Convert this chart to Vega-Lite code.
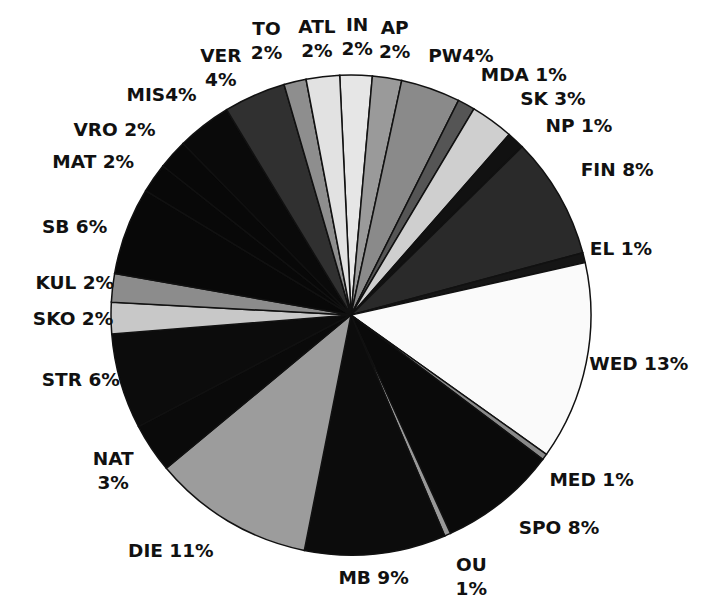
{
  "$schema": "https://vega.github.io/schema/vega-lite/v6.json",
  "width": 702,
  "height": 576,
  "autosize": "none",
  "padding": {"top": 27, "left": 0, "right": 5, "bottom": 0},
  "background": "white",
  "view": {"stroke": null},
  "config": {
    "text": {"font": "DejaVu Sans", "fontWeight": "bold", "fontSize": 18.5, "lineHeight": 24, "lineBreak": "\n", "color": "#111111", "baseline": "middle", "align": "center"}
  },
  "data": {
    "values": [
      {"i": 1, "name": "IN", "value": 2.17, "label": "IN\n2%"},
      {"i": 2, "name": "AP", "value": 1.97, "label": "AP\n2%"},
      {"i": 3, "name": "PW", "value": 4.0, "label": "PW4%"},
      {"i": 4, "name": "MDA", "value": 1.17, "label": "MDA 1%"},
      {"i": 5, "name": "SK", "value": 2.89, "label": "SK 3%"},
      {"i": 6, "name": "NP", "value": 1.19, "label": "NP 1%"},
      {"i": 7, "name": "FIN", "value": 8.19, "label": "FIN 8%"},
      {"i": 8, "name": "EL", "value": 0.67, "label": "EL 1%"},
      {"i": 9, "name": "WED", "value": 13.36, "label": "WED 13%"},
      {"i": 10, "name": "MED", "value": 0.42, "label": "MED 1%"},
      {"i": 11, "name": "SPO", "value": 7.92, "label": "SPO 8%"},
      {"i": 12, "name": "OU", "value": 0.42, "label": "OU\n1%"},
      {"i": 13, "name": "MB", "value": 9.5, "label": "MB 9%"},
      {"i": 14, "name": "DIE", "value": 10.86, "label": "DIE 11%"},
      {"i": 15, "name": "NAT", "value": 3.33, "label": "NAT\n3%"},
      {"i": 16, "name": "STR", "value": 6.44, "label": "STR 6%"},
      {"i": 17, "name": "SKO", "value": 2.11, "label": "SKO 2%"},
      {"i": 18, "name": "KUL", "value": 1.92, "label": "KUL 2%"},
      {"i": 19, "name": "SB", "value": 5.89, "label": "SB 6%"},
      {"i": 20, "name": "MAT", "value": 2.0, "label": "MAT 2%"},
      {"i": 21, "name": "VRO", "value": 2.0, "label": "VRO 2%"},
      {"i": 22, "name": "MIS", "value": 3.67, "label": "MIS4%"},
      {"i": 23, "name": "VER", "value": 4.17, "label": "VER\n4%"},
      {"i": 24, "name": "TO", "value": 1.5, "label": "TO\n2%"},
      {"i": 25, "name": "ATL", "value": 2.25, "label": "ATL\n2%"}
    ]
  },
  "encoding": {
    "theta": {"field": "value", "type": "quantitative", "stack": true, "scale": {"range": [-0.0471, 6.2361]}},
    "order": {"field": "i", "type": "quantitative"}
  },
  "layer": [
    {
      "mark": {"type": "arc", "outerRadius": 240, "stroke": "#111111", "strokeWidth": 1.5},
      "encoding": {
        "color": {
          "field": "name",
          "type": "nominal",
          "legend": null,
          "scale": {
            "domain": ["IN","AP","PW","MDA","SK","NP","FIN","EL","WED","MED","SPO","OU","MB","DIE","NAT","STR","SKO","KUL","SB","MAT","VRO","MIS","VER","TO","ATL"],
            "range": ["#e6e6e6","#9a9a9a","#8a8a8a","#555555","#cfcfcf","#111111","#2a2a2a","#151515","#fafafa","#8a8a8a","#0a0a0a","#999999","#0c0c0c","#9c9c9c","#0a0a0a","#0c0c0c","#c8c8c8","#8c8c8c","#080808","#080808","#080808","#0a0a0a","#303030","#8e8e8e","#e2e2e2"]
          }
        }
      }
    },
    {
      "mark": {"type": "text", "radius": 278},
      "encoding": {"text": {"condition": {"test": "indexof(['KUL','SKO','EL'], datum.name) >= 0", "field": "label", "type": "nominal"}, "value": ""}}
    },
    {
      "mark": {"type": "text", "radius": 290},
      "encoding": {"text": {"condition": {"test": "indexof(['IN','ATL','AP'], datum.name) >= 0", "field": "label", "type": "nominal"}, "value": ""}}
    },
    {
      "mark": {"type": "text", "radius": 278, "thetaOffset": 0.044},
      "encoding": {"text": {"condition": {"test": "indexof(['STR','NAT'], datum.name) >= 0", "field": "label", "type": "nominal"}, "value": ""}}
    },
    {
      "mark": {"type": "text", "radius": 297, "thetaOffset": 0.115},
      "encoding": {"text": {"condition": {"test": "datum.name === 'DIE'", "field": "label", "type": "nominal"}, "value": ""}}
    },
    {
      "mark": {"type": "text", "radius": 264, "thetaOffset": 0.017},
      "encoding": {"text": {"condition": {"test": "datum.name === 'MB'", "field": "label", "type": "nominal"}, "value": ""}}
    },
    {
      "mark": {"type": "text", "radius": 277, "thetaOffset": -0.035},
      "encoding": {"text": {"condition": {"test": "datum.name === 'OU'", "field": "label", "type": "nominal"}, "value": ""}}
    },
    {
      "mark": {"type": "text", "radius": 298, "thetaOffset": -0.096},
      "encoding": {"text": {"condition": {"test": "datum.name === 'SPO'", "field": "label", "type": "nominal"}, "value": ""}}
    },
    {
      "mark": {"type": "text", "radius": 292, "thetaOffset": -0.03},
      "encoding": {"text": {"condition": {"test": "indexof(['MED','WED'], datum.name) >= 0", "field": "label", "type": "nominal"}, "value": ""}}
    },
    {
      "mark": {"type": "text", "radius": 303, "thetaOffset": 0.021},
      "encoding": {"text": {"condition": {"test": "datum.name === 'FIN'", "field": "label", "type": "nominal"}, "value": ""}}
    },
    {
      "mark": {"type": "text", "radius": 296, "thetaOffset": 0.122},
      "encoding": {"text": {"condition": {"test": "indexof(['NP','SK','MDA'], datum.name) >= 0", "field": "label", "type": "nominal"}, "value": ""}}
    },
    {
      "mark": {"type": "text", "radius": 281, "thetaOffset": 0.063},
      "encoding": {"text": {"condition": {"test": "datum.name === 'PW'", "field": "label", "type": "nominal"}, "value": ""}}
    },
    {
      "mark": {"type": "text", "radius": 298, "thetaOffset": -0.052},
      "encoding": {"text": {"condition": {"test": "datum.name === 'TO'", "field": "label", "type": "nominal"}, "value": ""}}
    },
    {
      "mark": {"type": "text", "radius": 290, "thetaOffset": -0.052},
      "encoding": {"text": {"condition": {"test": "indexof(['VER','MIS','SB'], datum.name) >= 0", "field": "label", "type": "nominal"}, "value": ""}}
    },
    {
      "mark": {"type": "text", "radius": 300, "thetaOffset": -0.07},
      "encoding": {"text": {"condition": {"test": "indexof(['VRO','MAT'], datum.name) >= 0", "field": "label", "type": "nominal"}, "value": ""}}
    }
  ]
}
